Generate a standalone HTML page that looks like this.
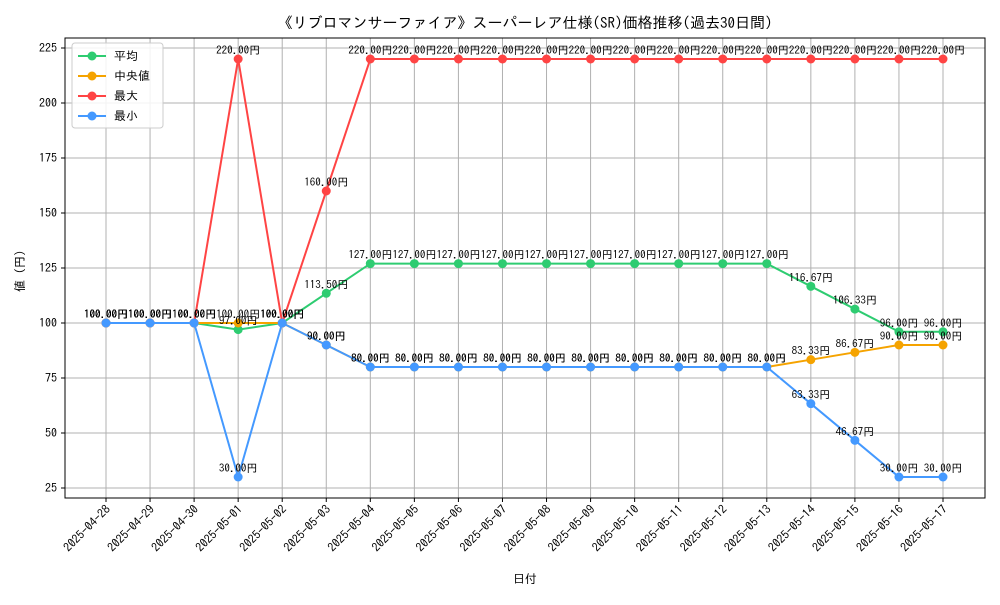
<!DOCTYPE html>
<html><head><meta charset="utf-8"><style>
body{margin:0;background:#fff}
svg{font-family:"IPAGothic","Liberation Mono","Noto Sans CJK JP",sans-serif}
</style></head><body>
<svg id="chart" width="1000" height="600" xmlns="http://www.w3.org/2000/svg">
<rect width="1000" height="600" fill="#fff"/>
<text x="525" y="28" font-size="15" text-anchor="middle">《リブロマンサーファイア》スーパーレア仕様(SR)価格推移(過去30日間)</text>
<g id="grid"></g><g id="axes"></g><g id="series"></g><g id="labels"></g>
<rect x="65" y="38" width="920" height="460" fill="none" stroke="#000" stroke-width="1"/>
<text x="525" y="583" font-size="12" text-anchor="middle">日付</text>
<text transform="translate(24,268) rotate(-90)" font-size="12" text-anchor="middle">値（円）</text>
<g id="legend"></g>
</svg>
<script>
const categories=["2025-04-28","2025-04-29","2025-04-30","2025-05-01","2025-05-02","2025-05-03","2025-05-04","2025-05-05","2025-05-06","2025-05-07","2025-05-08","2025-05-09","2025-05-10","2025-05-11","2025-05-12","2025-05-13","2025-05-14","2025-05-15","2025-05-16","2025-05-17"];
const avgValues=[100,100,100,97,100,113.5,127,127,127,127,127,127,127,127,127,127,116.67,106.33,96,96];
const medianValues=[100,100,100,100,100,90,80,80,80,80,80,80,80,80,80,80,83.33,86.67,90,90];
const maxValues=[100,100,100,220,100,160,220,220,220,220,220,220,220,220,220,220,220,220,220,220];
const minValues=[100,100,100,30,100,90,80,80,80,80,80,80,80,80,80,80,63.33,46.67,30,30];
const yTicks=[25,50,75,100,125,150,175,200,225];
const seriesNames=["平均","中央値","最大","最小"];
const NS="http://www.w3.org/2000/svg";
function X(i){return 106+i*(943-106)/(categories.length-1);}
function Y(v){return 488-(v-25)*2.2;}
function mk(tag,attrs,parent){const e=document.createElementNS(NS,tag);for(const k in attrs)e.setAttribute(k,attrs[k]);parent.appendChild(e);return e;}
const grid=document.getElementById('grid'),axes=document.getElementById('axes');
yTicks.forEach(v=>{
 const l=mk('line',{x1:65,x2:985,y1:Y(v),y2:Y(v),stroke:'#b0b0b0','stroke-width':1},grid);
 
 
 mk('line',{x1:61,x2:65,y1:Y(v),y2:Y(v),stroke:'#000'},axes);
 const t=mk('text',{x:57,y:Y(v)+4,'font-size':12,'text-anchor':'end'},axes);t.textContent=v;
 
 
});
categories.forEach((c,i)=>{
 const l=mk('line',{x1:X(i),x2:X(i),y1:38,y2:498,stroke:'#b0b0b0','stroke-width':1},grid);
 
 
 mk('line',{x1:X(i),x2:X(i),y1:498,y2:502,stroke:'#000'},axes);
 const t=mk('text',{transform:`translate(${X(i)+5},${510}) rotate(-45)`,'font-size':12,'text-anchor':'end'},axes);t.textContent=c;
 
 
});
const colors=["#2ecc71","#f5a300","#ff4444","#4499ff"];
const all=[avgValues,medianValues,maxValues,minValues];
const sg=document.getElementById('series'),lg=document.getElementById('labels');
all.forEach((vals,s)=>{
 const p=mk('polyline',{points:vals.map((v,i)=>X(i)+','+Y(v)).join(' '),fill:'none',stroke:colors[s],'stroke-width':2},sg);
 
 
 vals.forEach((v,i)=>{
  const c=mk('circle',{cx:X(i),cy:Y(v),r:4.5,fill:colors[s]},sg);
  
  
  const t=mk('text',{x:X(i),y:Y(v)-5,'font-size':11,'text-anchor':'middle'},lg);
  t.textContent=v.toFixed(2)+'円';
  
  
 });
});
const leg=document.getElementById('legend');
const box=mk('rect',{x:72,y:43,width:91,height:85,fill:'#fff','fill-opacity':0.85,stroke:'#ccc',rx:3},leg);


seriesNames.forEach((n,s)=>{
 const y=56+s*20;
 mk('line',{x1:78,x2:106,y1:y,y2:y,stroke:colors[s],'stroke-width':2},leg);
 mk('circle',{cx:92,cy:y,r:4.5,fill:colors[s]},leg);
 const t=mk('text',{x:114,y:y+4,'font-size':12},leg);t.textContent=n;
 
 
});
</script>
</body></html>
